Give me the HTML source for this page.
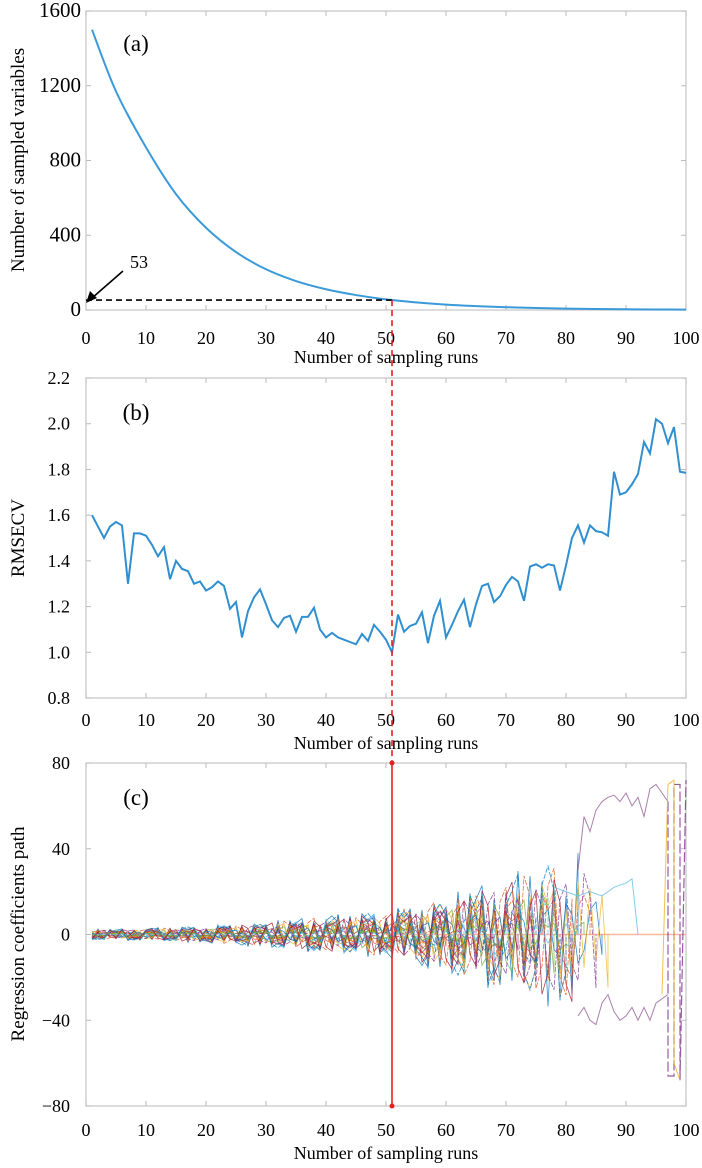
<!DOCTYPE html>
<html><head><meta charset="utf-8"><style>
html,body{margin:0;padding:0;background:#fff;}
svg{display:block;}
svg text{font-family:"Liberation Serif","DejaVu Serif",serif;}
</style></head><body>
<svg id="fig" width="702" height="1168" viewBox="0 0 702 1168" xmlns="http://www.w3.org/2000/svg" font-family="Liberation Serif, serif">
<g id="pa"></g>
<g id="pb"></g>
<g id="pc"></g>
<g id="ann"></g>
</svg>
<script>
// ---- data ----
const xTicks = [0,10,20,30,40,50,60,70,80,90,100];
const aRuns = [1,5,10,15,20,25,30,35,40,45,50,55,60,65,70,75,80,85,90,95,100];
const aVars = [1500,1170,870,620,440,310,218,155,111,80,57,41,29,21,15,10.7,7.6,5.5,3.9,2.8,2];
const aYTicks = [0,400,800,1200,1600];
const bRmsecv = [1.60,1.55,1.50,1.55,1.57,1.555,1.30,1.52,1.52,1.51,1.47,1.42,1.46,1.32,1.40,1.365,1.355,1.30,1.31,1.27,1.285,1.31,1.29,1.19,1.22,1.065,1.18,1.24,1.275,1.21,1.14,1.11,1.15,1.16,1.09,1.155,1.155,1.195,1.10,1.065,1.085,1.065,1.055,1.045,1.035,1.08,1.05,1.12,1.09,1.055,1.00,1.165,1.09,1.115,1.125,1.175,1.04,1.16,1.225,1.065,1.12,1.18,1.23,1.11,1.21,1.29,1.30,1.22,1.245,1.295,1.33,1.31,1.225,1.375,1.385,1.37,1.385,1.38,1.27,1.38,1.50,1.555,1.48,1.555,1.53,1.525,1.51,1.79,1.69,1.70,1.735,1.78,1.92,1.87,2.02,2.00,1.915,1.985,1.79,1.785];
const bYTicks = [0.8,1.0,1.2,1.4,1.6,1.8,2.0,2.2];
const cEnvRuns = [1,10,20,30,40,50,60,70,80,82];
const cEnvAmp = [2.5,3,4,6,9,11,18,28,36,38];
const cWeights = [1,-0.9,0.8,-0.7,0.6,-0.5,0.45,-0.4,0.35,-0.3,0.25,-0.2,0.15,-0.1,0.95,-0.85,0.75,-0.65,0.55,-0.45,0.7,-0.6,0.5,-0.35,0.3,-0.25,0.9,-0.8,0.4,-0.55,0.65,-0.75,0.2,-0.15,0.85,-0.95];
const cEnds = [82,81,80,79,78,77,76,75,74,73,72,71,70,69,68,67,66,65,64,63,62,61,60,58,56,54,52,50,86,84,87,85,83,82,81,80];
const cTopRuns = [82,83,84,85,86,87,88,89,90,91,92,93,94,95,96,97];
const cTopVals = [30,55,48,58,62,64,65,62,66,60,64,55,68,70,66,62];
const cBotRuns = [82,83,84,85,86,87,88,89,90,91,92,93,94,95,96,97];
const cBotVals = [-38,-34,-40,-42,-32,-28,-36,-40,-38,-34,-40,-34,-40,-32,-30,-28];
const cCyanRuns = [78,80,82,84,86,88,90,91,92];
const cCyanVals = [22,20,18,20,18,22,24,26,0];
const cYTicks = [-80,-40,0,40,80];
const selRun = 51;
const selVars = 53;

// ---- helpers ----
const NS='http://www.w3.org/2000/svg';
function mk(tag,attrs,parent,txt){const e=document.createElementNS(NS,tag);for(const k in attrs)e.setAttribute(k,attrs[k]);if(tag==='text')e.setAttribute('font-family','Liberation Serif, serif');if(txt!==undefined)e.textContent=txt;parent.appendChild(e);return e;}
const L=86,R=686;
const X=v=>L+v*(R-L)/100;
const Ya=v=>310-v/1600*299;
const Yb=v=>698-(v-0.8)/1.4*320;
const Yc=v=>934.5-v/80*171.5;

function axes(g,top,bot,yt,Yf,ytFont,ytX,fmt,tickY,titleY,ytitle,ytitleY,lab,labY,nm){
  const box=mk('rect',{x:L,y:top,width:R-L,height:bot-top,fill:'none',stroke:'#c4c4c4','stroke-width':1.2},g);
  
  xTicks.forEach(t=>{
    mk('line',{x1:X(t),x2:X(t),y1:bot,y2:bot-5,stroke:'#bbb'},g);
    mk('line',{x1:X(t),x2:X(t),y1:top,y2:top+5,stroke:'#bbb'},g);
    const tx=mk('text',{x:X(t),y:tickY,'text-anchor':'middle','font-size':18},g,String(t));
    
  });
  yt.forEach(t=>{
    mk('line',{x1:L,x2:L+5,y1:Yf(t),y2:Yf(t),stroke:'#bbb'},g);
    mk('line',{x1:R,x2:R-5,y1:Yf(t),y2:Yf(t),stroke:'#bbb'},g);
    const tx=mk('text',{x:ytX,y:Yf(t)+6,'text-anchor':'end','font-size':ytFont},g,fmt(t));
    
  });
  const xt=mk('text',{x:(L+R)/2,y:titleY,'text-anchor':'middle','font-size':18},g,'Number of sampling runs');
  
  const yti=mk('text',{x:0,y:0,'text-anchor':'middle','font-size':19,transform:`translate(24,${ytitleY}) rotate(-90)`},g,ytitle);
  
  const pl=mk('text',{x:136,y:labY,'text-anchor':'middle','font-size':23},g,lab);
  
}
const fmtNum=t=>t<0?'\u2212'+Math.abs(t):String(t);
function smooth(pts){let d='M'+pts[0][0]+','+pts[0][1];for(let i=0;i<pts.length-1;i++){const p0=pts[Math.max(0,i-1)],p1=pts[i],p2=pts[i+1],p3=pts[Math.min(pts.length-1,i+2)];const c1=[p1[0]+(p2[0]-p0[0])/6,p1[1]+(p2[1]-p0[1])/6],c2=[p2[0]-(p3[0]-p1[0])/6,p2[1]-(p3[1]-p1[1])/6];d+=` C${c1[0]},${c1[1]} ${c2[0]},${c2[1]} ${p2[0]},${p2[1]}`;}return d;}

// ---- panel a ----
const pa=document.getElementById('pa');
axes(pa,11,310,aYTicks,Ya,21,81,String,344,363,'Number of sampled variables',160,'(a)',51,'panel-a');
const la=mk('path',{d:smooth(aRuns.map((r,i)=>[X(r),Ya(aVars[i])])),fill:'none',stroke:'#3a9ad9','stroke-width':2},pa);


// ---- panel b ----
const pb=document.getElementById('pb');
axes(pb,378,698,bYTicks,Yb,18,70,t=>t.toFixed(1),726,749,'RMSECV',538,'(b)',420,'panel-b');
const lb=mk('polyline',{points:bRmsecv.map((v,i)=>X(i+1)+','+Yb(v)).join(' '),fill:'none',stroke:'#2f8fd0','stroke-width':2},pb);


// ---- panel c ----
const pc=document.getElementById('pc');
axes(pc,763,1106,cYTicks,Yc,18,70,fmtNum,1136,1159,'Regression coefficients path',934,'(c)',805,'panel-c');
const colors=['#0072BD','#D95319','#EDB120','#7E2F8E','#77AC30','#4DBEEE','#A2142F'];
function env(r){for(let i=1;i<cEnvRuns.length;i++){if(r<=cEnvRuns[i]){const a=cEnvRuns[i-1],b=cEnvRuns[i];return cEnvAmp[i-1]+(cEnvAmp[i]-cEnvAmp[i-1])*(r-a)/(b-a);}}return cEnvAmp[cEnvAmp.length-1];}
const hz=mk('line',{x1:X(50),x2:X(100),y1:Yc(0),y2:Yc(0),stroke:'#f4b9a0','stroke-width':1.5},pc);

cWeights.forEach((w,k)=>{
  const pts=[];
  const per=1+(k%3);
  for(let r=1;r<=cEnds[k];r++){
    const s=(Math.floor((r+k)/per)%2===0)?1:-1;
    const m=0.5+0.5*(((r*7+k*3)%5)/4);
    pts.push(X(r)+','+Yc(env(r)*w*s*m));
  }
  pts.push(X(cEnds[k])+','+Yc(0));
  const p=mk('polyline',{points:pts.join(' '),fill:'none',stroke:colors[k%7],'stroke-width':0.8,opacity:0.8,'stroke-dasharray':k%2?'5,1.5':'none'},pc);
  
});
function series(runs,vals,col,nm){const p=mk('polyline',{points:runs.map((r,i)=>X(r)+','+Yc(vals[i])).join(' '),fill:'none',stroke:col,'stroke-width':1,opacity:0.85},pc);}
series(cTopRuns,cTopVals,'#9b6a9e','coefficient-path-top');
series(cBotRuns,cBotVals,'#9b6a9e','coefficient-path-bottom');
series(cCyanRuns,cCyanVals,'#6cc3e6','coefficient-path-cyan');
const sp1=mk('polyline',{points:[[97,62],[97,-66],[98,-66],[98,70],[99,70],[99,-68],[100,72]].map(p=>X(p[0])+','+Yc(p[1])).join(' '),fill:'none',stroke:'#7E2F8E','stroke-width':1.2,'stroke-dasharray':'10,3',opacity:0.8},pc);

const sp2=mk('polyline',{points:[[96,-28],[97,70],[98,72],[98,-60],[99,-68]].map(p=>X(p[0])+','+Yc(p[1])).join(' '),fill:'none',stroke:'#EDB120','stroke-width':1,opacity:0.8},pc);


// ---- annotations ----
const an=document.getElementById('ann');
const sx=X(selRun);
const hd=mk('line',{x1:L,x2:sx,y1:Ya(selVars),y2:Ya(selVars),stroke:'#000','stroke-width':1.6,'stroke-dasharray':'6,4'},an);

const vd=mk('line',{x1:sx,x2:sx,y1:Ya(selVars),y2:763,stroke:'#e82020','stroke-width':1.6,'stroke-dasharray':'6,4'},an);

const vs=mk('line',{x1:sx,x2:sx,y1:763,y2:1106,stroke:'#e82020','stroke-width':1.6},an);

[763,1106].forEach(y=>{const c=mk('circle',{cx:sx,cy:y,r:2.5,fill:'#e82020'},an);});
const ar=mk('line',{x1:123,y1:271,x2:92,y2:298,stroke:'#000','stroke-width':1.6},an);

const ah=mk('polygon',{points:'86,303 90,291 97,298',fill:'#000'},an);

const at=mk('text',{x:130,y:268,'font-size':18},an,String(selVars));

</script>
</body></html>
